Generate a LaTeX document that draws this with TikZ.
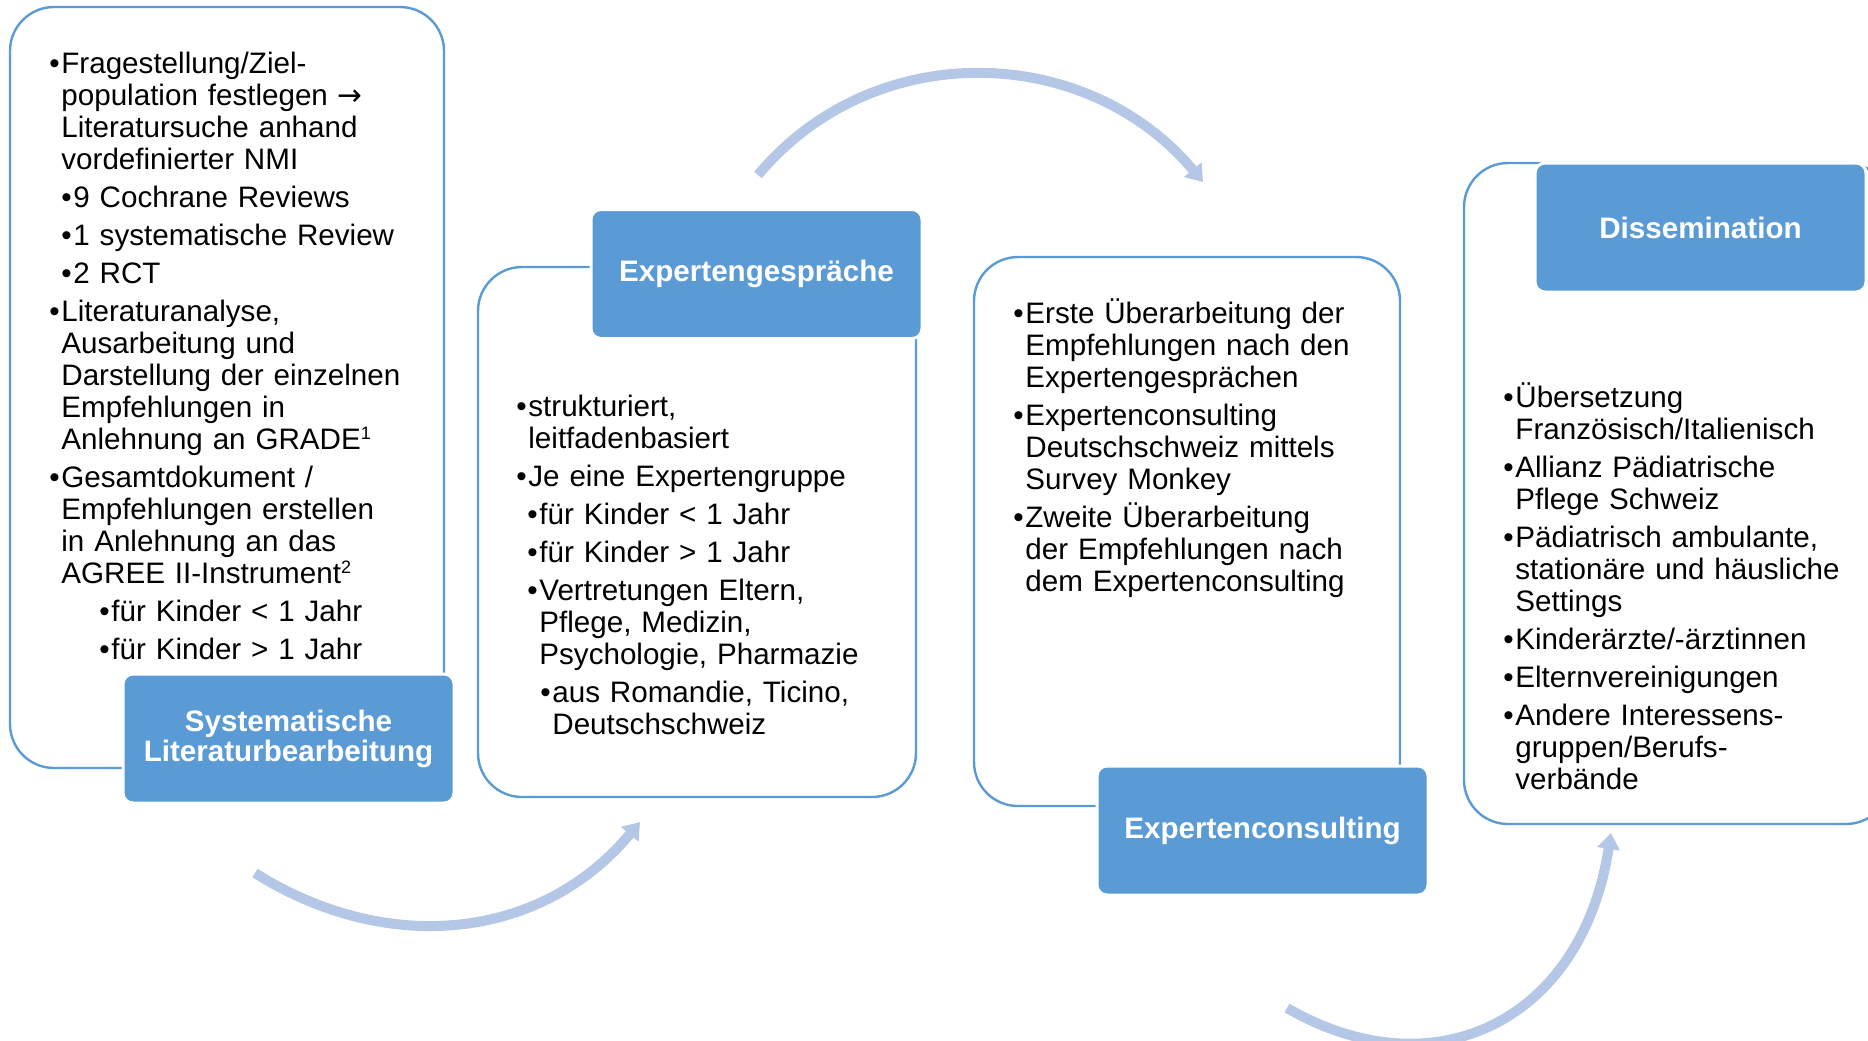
\documentclass[tikz,border=0pt]{standalone}
\usepackage{fontspec}
\setmainfont{Liberation Sans}
\newfontfamily\arrowfont{DejaVu Sans}
\usepackage{xcolor}
\usepackage{tikz}
\usetikzlibrary{arrows.meta}

\definecolor{headblue}{HTML}{5B9BD5}
\definecolor{arrowblue}{HTML}{B4C7E7}

\newcommand{\bpt}[2]{\noindent\hangindent=\dimexpr#1+6pt\relax\hangafter=1\hspace*{#1}\makebox[6pt][l]{\textbullet}#2\par}
\newcommand{\fnmark}[1]{\raisebox{5pt}{\fontsize{9}{9}\selectfont#1}}

\begin{document}
\begin{tikzpicture}[x=0.5pt,y=-0.5pt,
  outline/.style={draw=headblue, line width=1.2pt, rounded corners=22pt, fill=white},
  headbox/.style={fill=headblue, draw=white, line width=1.5pt, rounded corners=5pt,
    minimum width=165.5pt, minimum height=64.5pt, inner sep=0pt, text=white,
    align=center, font=\fontsize{14.8}{15}\selectfont\bfseries},
  bodytext/.style={anchor=base west, inner sep=0pt, text width=215pt,
    font=\fontsize{14.8}{16}\selectfont,
    execute at begin node={\raggedright\setlength{\parskip}{3pt}}},
  turnarrow/.style={arrowblue, line width=5pt, -{Triangle[width=11pt,length=8pt]}}]
 \useasboundingbox (0,0) rectangle (1868,1040);
 \clip (0,0) rectangle (1868,1040);

  \draw[outline] (10,7) rectangle (444,768);
  \draw[outline] (478,267) rectangle (916,797);
  \draw[outline] (974,257) rectangle (1400,806);
  \draw[outline] (1464,163) rectangle (1890,824);

  \node[headbox] (litHead) at (288.5,738.5) {Systematische\\Literaturbearbeitung};
  \node[headbox] (expHead) at (756.5,274) {Expertengespräche};
  \node[headbox] (consHead) at (1262.5,830.5) {Expertenconsulting};
  \node[headbox] (dissHead) at (1700.5,227.5) {Dissemination};

  \node[bodytext] (litText) at (49,73) {%
    \bpt{0pt}{Fragestellung/Ziel-\newline population festlegen {\arrowfont →}\newline Literatursuche anhand\newline vordefinierter NMI}%
    \bpt{6pt}{9 Cochrane Reviews}%
    \bpt{6pt}{1 systematische Review}%
    \bpt{6pt}{2 RCT}%
    \bpt{0pt}{Literaturanalyse,\newline Ausarbeitung und\newline Darstellung der einzelnen\newline Empfehlungen in\newline Anlehnung an GRADE\fnmark{1}}%
    \bpt{0pt}{Gesamtdokument /\newline Empfehlungen erstellen\newline in Anlehnung an das\newline AGREE II-Instrument\fnmark{2}}%
    \bpt{25pt}{für Kinder < 1 Jahr}%
    \bpt{25pt}{für Kinder > 1 Jahr}};

  \node[bodytext] (expText) at (516,416) {%
    \bpt{0pt}{strukturiert,\newline leitfadenbasiert}%
    \bpt{0pt}{Je eine Expertengruppe}%
    \bpt{5.5pt}{für Kinder < 1 Jahr}%
    \bpt{5.5pt}{für Kinder > 1 Jahr}%
    \bpt{5.5pt}{Vertretungen Eltern,\newline Pflege, Medizin,\newline Psychologie, Pharmazie}%
    \bpt{12pt}{aus Romandie, Ticino,\newline Deutschschweiz}};

  \node[bodytext] (consText) at (1013,323) {%
    \bpt{0pt}{Erste Überarbeitung der\newline Empfehlungen nach den\newline Expertengesprächen}%
    \bpt{0pt}{Expertenconsulting\newline Deutschschweiz mittels\newline Survey Monkey}%
    \bpt{0pt}{Zweite Überarbeitung\newline der Empfehlungen nach\newline dem Expertenconsulting}};

  \node[bodytext] (dissText) at (1503,407) {%
    \bpt{0pt}{Übersetzung\newline Französisch/Italienisch}%
    \bpt{0pt}{Allianz Pädiatrische\newline Pflege Schweiz}%
    \bpt{0pt}{Pädiatrisch ambulante,\newline stationäre und häusliche\newline Settings}%
    \bpt{0pt}{Kinderärzte/-ärztinnen}%
    \bpt{0pt}{Elternvereinigungen}%
    \bpt{0pt}{Andere Interessens-\newline gruppen/Berufs-\newline verbände}};

  \coordinate (litOut) at (255,873);
  \coordinate (expIn) at (640,822);
  \coordinate (expOut) at (758,175);
  \coordinate (consIn) at (1203,182);
  \coordinate (consOut) at (1287,1008);
  \coordinate (dissIn) at (1611,833);

  \draw[turnarrow] (litOut) .. controls (385,955) and (540,942) .. (expIn);
  \draw[turnarrow] (expOut) .. controls (874,36) and (1087,43) .. (consIn);
  \draw[turnarrow] (consOut) .. controls (1434,1093) and (1582,1021) .. (dissIn);

\end{tikzpicture}
\end{document}
